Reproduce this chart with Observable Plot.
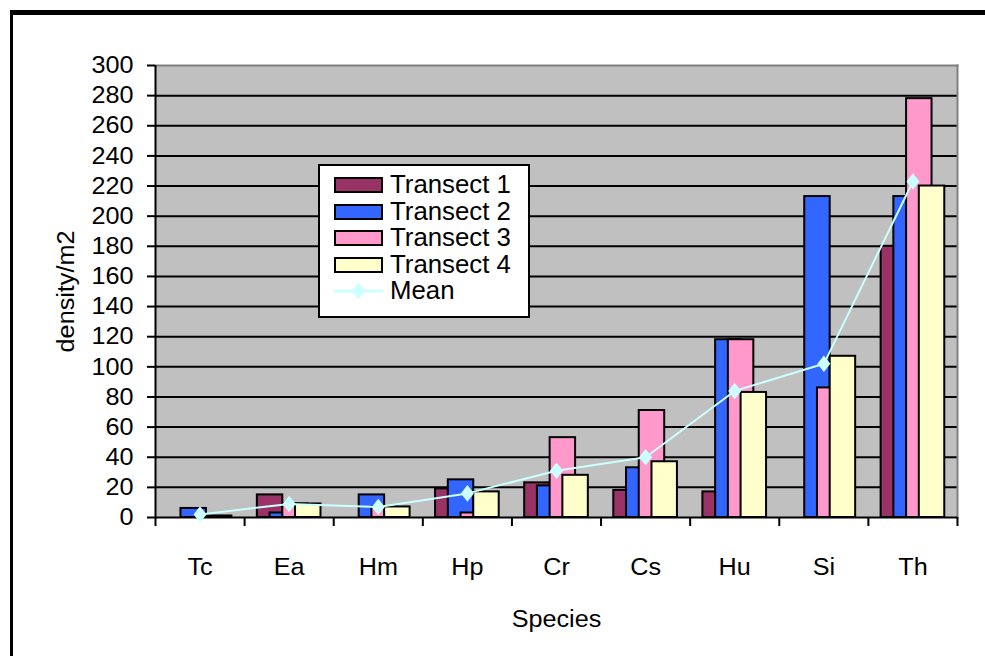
<!DOCTYPE html>
<html><head><meta charset="utf-8">
<script src="https://cdn.jsdelivr.net/npm/d3@7"></script>
<script src="https://cdn.jsdelivr.net/npm/@observablehq/plot@0.6"></script>
<style>
html,body{margin:0;padding:0;background:#fff;overflow:hidden;}
#wrap{position:relative;width:985px;height:656px;font-family:"Liberation Sans",Arial,sans-serif;overflow:hidden;}
#frame{position:absolute;left:10px;top:10px;width:1000px;height:700px;border-top:5px solid #000;border-left:3px solid #000;box-sizing:border-box;}
#chart{position:absolute;left:0;top:0;}
#legend{position:absolute;left:318px;top:164px;width:212px;height:154px;border:2px solid #000;background:#fff;box-sizing:border-box;}
.row{position:absolute;left:14px;height:26px;display:flex;align-items:center;}
.sw{width:49px;height:16px;border:2px solid #000;box-sizing:border-box;}
.lbl{margin-left:7px;font-size:25.8px;line-height:1;color:#000;white-space:nowrap;}
</style>
</head><body>
<div id="wrap"><div id="frame"></div><div id="chart"></div><div id="legend"></div></div>
<script>
const species = ["Tc","Ea","Hm","Hp","Cr","Cs","Hu","Si","Th"];
const transect1 = [0,15,0,19,23,18,17,0,180];
const transect2 = [6,3,15,25,21,33,118,213,213];
const transect3 = [0,9,7,3,53,71,118,86,278];
const transect4 = [1,9,7,17,28,37,83,107,220];
const meanValues = [2,9,7,16,31,40,84,102,223];
const seriesNames = ["Transect 1","Transect 2","Transect 3","Transect 4"];
const seriesColors = ["#993366","#3366FF","#FF99CC","#FFFFCC"];
const meanName = "Mean";
const meanColor = "#CCFFFF";
const yTicks = d3.range(0, 301, 20);

const S = 1.05; // slight horizontal text stretch
const FS = 24;
const series = [transect1, transect2, transect3, transect4];
const barW = 1 / 3.5;
const barSets = series.map((arr, k) => arr.map((v, i) => ({
  sp: species[i], v,
  x1: i + (0.5 + 0.5 * k) * barW,
  x2: i + (1.5 + 0.5 * k) * barW
})));
const meanData = meanValues.map((v, i) => ({sp: species[i], v, xc: i + 0.5}));

const tallDiamond = {draw(ctx) {
  const hx = 6.5, hy = 8.3;
  ctx.moveTo(0, -hy); ctx.lineTo(hx, 0); ctx.lineTo(0, hy); ctx.lineTo(-hx, 0); ctx.closePath();
}};

const chart = Plot.plot({
  width: 985, height: 656,
  marginLeft: 155, marginRight: 28, marginTop: 65, marginBottom: 139,
  x: {domain: [0, species.length]},
  y: {domain: [0, 300]},
  style: {fontFamily: "'Liberation Sans', Arial, sans-serif", fontSize: FS + "px", color: "#000", background: "transparent", overflow: "visible"},
  marks: [
    Plot.frame({fill: "#C0C0C0", stroke: null}),
    Plot.gridY(yTicks.filter(d => d > 0 && d < 300), {stroke: "#000", strokeOpacity: 1, strokeWidth: 2}),
    Plot.frame({anchor: "top", stroke: "#808080", strokeWidth: 2}),
    Plot.frame({anchor: "right", stroke: "#808080", strokeWidth: 2}),
    ...barSets.map((d, k) => Plot.rectY(d, {x1: "x1", x2: "x2", y: "v", fill: seriesColors[k], stroke: "#000", strokeWidth: 2})),
    Plot.ruleX([0], {stroke: "#000", strokeWidth: 2}),
    Plot.ruleY([0], {stroke: "#000", strokeWidth: 2}),
    Plot.line(meanData, {x: "xc", y: "v", stroke: meanColor, strokeWidth: 2}),
    Plot.dot(meanData, {x: "xc", y: "v", symbol: tallDiamond, fill: meanColor, stroke: null}),
    Plot.axisY({ticks: yTicks, tickSize: 8, tickPadding: 14, tickFormat: d => String(d), strokeWidth: 2, label: null, fontSize: FS}),
    Plot.axisX({ticks: d3.range(0, species.length + 1), tickSize: 9, tickFormat: () => "", strokeWidth: 2, label: null}),
    Plot.axisX({ticks: species.map((_, i) => i + 0.5), tickSize: 0, tickPadding: 40, tickFormat: d => species[Math.floor(d)], label: null, fontSize: FS}),
    Plot.text(["Species"], {frameAnchor: "bottom", dy: 102, text: d => d, fontSize: FS, lineAnchor: "middle", textAnchor: "middle"}),
    Plot.text(["density/m2"], {frameAnchor: "left", dx: -89, rotate: -90, text: d => d, fontSize: FS, lineAnchor: "middle", textAnchor: "middle"})
  ]
});

chart.querySelectorAll("text").forEach(t => {
  const x = parseFloat(t.getAttribute("x")) || 0;
  const tr = t.getAttribute("transform") || "";
  t.setAttribute("transform", `${tr} translate(${x},0) scale(${S},1) translate(${-x},0)`);
});
document.getElementById("chart").appendChild(chart);

// legend
const legend = document.getElementById("legend");
const rowTops = [6, 32.5, 59, 85.5, 112];
seriesNames.forEach((name, k) => {
  const row = document.createElement("div");
  row.className = "row"; row.style.top = rowTops[k] + "px";
  row.innerHTML = `<div class="sw" style="background:${seriesColors[k]}"></div><div class="lbl">${name}</div>`;
  legend.appendChild(row);
});
const mrow = document.createElement("div");
mrow.className = "row"; mrow.style.top = rowTops[4] + "px";
mrow.innerHTML = `<svg width="49" height="20" style="display:block"><line x1="0" x2="49" y1="10" y2="10" stroke="${meanColor}" stroke-width="3"/><path d="M24.5,1.7L31,10L24.5,18.3L18,10Z" fill="${meanColor}"/></svg><div class="lbl">${meanName}</div>`;
legend.appendChild(mrow);
</script>
</body></html>
